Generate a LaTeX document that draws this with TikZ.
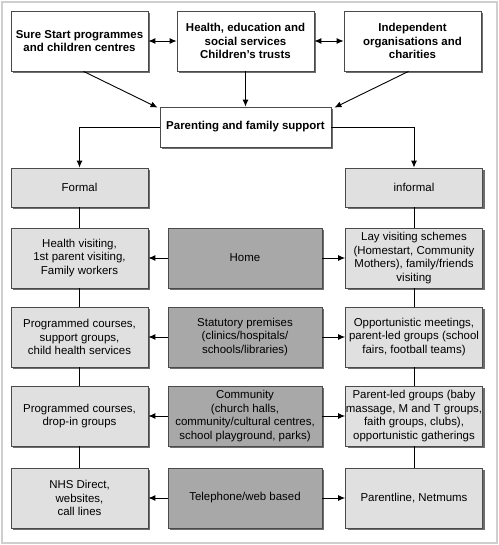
\documentclass[tikz,border=0pt]{standalone}
\usepackage{fontspec}
\setmainfont{Liberation Sans}
\usetikzlibrary{arrows.meta,shadows,calc}
\definecolor{sidefill}{HTML}{E0E0E0}
\definecolor{midfill}{HTML}{A8A8A8}
\definecolor{shadowc}{HTML}{6E6E6E}
\definecolor{edgec}{HTML}{4A4A4A}
\definecolor{framec}{HTML}{CFCFCF}
\begin{document}
\begin{tikzpicture}[x=1bp,y=-1bp,
  box/.style={draw=edgec,line width=0.8bp,rectangle,align=center,inner sep=0pt,
    font=\fontsize{11.5}{13.6}\selectfont,
    drop shadow={shadow xshift=2bp,shadow yshift=-2bp,fill=shadowc,opacity=1}},
  topbox/.style={box,fill=white,font=\bfseries\fontsize{11.5}{13.6}\selectfont,minimum width=137bp,minimum height=60bp},
  sidebox/.style={box,fill=sidefill,minimum width=137bp},
  midbox/.style={box,fill=midfill,minimum width=154bp,minimum height=60bp},
  conn/.style={line width=0.9bp,draw=black},
  arr/.style={conn,-{Latex[length=7bp,width=6bp]}},
  darr/.style={conn,{Latex[length=7bp,width=6bp]}-{Latex[length=7bp,width=6bp]}}]
\useasboundingbox (0,0) rectangle (499,545);
\draw[framec,line width=1.5bp] (2,2) rectangle (497,543);
% top row
\node[topbox] (ss) at (79.5,41) {Sure Start programmes\\and children centres};
\node[topbox] (hs) at (245.5,41) {Health, education and\\social services\\Children's trusts};
\node[topbox] (io) at (412.5,41) {Independent\\organisations and\\charities};
\node[topbox,minimum width=171bp,minimum height=40bp] (pf) at (245.5,127) {Parenting and family support};
% formal / informal
\node[sidebox,minimum height=39bp] (fo) at (79.5,187.5) {Formal};
\node[sidebox,minimum height=39bp] (in) at (414,187.5) {informal};
% row 2
\node[sidebox,minimum height=60bp] (l2) at (79.5,258) {Health visiting,\\1st parent visiting,\\Family workers};
\node[midbox] (c2) at (245,258) {Home};
\node[sidebox,minimum height=60bp] (r2) at (414,258) {Lay visiting schemes\\(Homestart, Community\\Mothers), family/friends\\visiting};
% row 3
\node[sidebox,minimum height=60bp] (l3) at (79.5,337) {Programmed courses,\\support groups,\\child health services};
\node[midbox] (c3) at (245,337) {Statutory premises\\(clinics/hospitals/\\schools/libraries)};
\node[sidebox,minimum height=60bp] (r3) at (414,337) {Opportunistic meetings,\\parent-led groups (school\\fairs, football teams)};
% row 4
\node[sidebox,minimum height=60bp] (l4) at (79.5,416) {Programmed courses,\\drop-in groups};
\node[midbox] (c4) at (245,416) {Community\\(church halls,\\community/cultural centres,\\school playground, parks)};
\node[sidebox,minimum height=60bp] (r4) at (414,416) {Parent-led groups (baby\\massage, M and T groups,\\faith groups, clubs),\\opportunistic gatherings};
% row 5
\node[sidebox,minimum height=60bp] (l5) at (79.5,498) {NHS Direct,\\websites,\\call lines};
\node[midbox] (c5) at (245,498) {Telephone/web based};
\node[sidebox,minimum height=60bp] (r5) at (414,498) {Parentline, Netmums};
% top connectors
\draw[darr] (ss.east) -- (hs.west);
\draw[darr] (hs.east) -- (io.west);
\draw[arr] ($(ss.south)+(4,0)$) -- ($(pf.north west)+(-2,1)$);
\draw[arr] (hs.south) -- (pf.north);
\draw[arr] ($(io.south)+(-4,0)$) -- ($(pf.north east)+(3,1)$);
\draw[arr] (pf.west) -| (fo.north);
\draw[arr] (pf.east) -| (in.north);
% vertical links
\draw[conn] (fo.south) -- (l2.north);
\draw[conn] (l2.south) -- (l3.north);
\draw[conn] (l3.south) -- (l4.north);
\draw[conn] (l4.south) -- (l5.north);
\draw[conn] (in.south) -- (r2.north);
\draw[conn] (r2.south) -- (r3.north);
\draw[conn] (r3.south) -- (r4.north);
\draw[conn] (r4.south) -- (r5.north);
% centre to sides
\draw[arr] (c2.west) -- (l2.east);
\draw[arr] (c2.east) -- (r2.west);
\draw[arr] (c3.west) -- (l3.east);
\draw[arr] (c3.east) -- (r3.west);
\draw[arr] (c4.west) -- (l4.east);
\draw[arr] (c4.east) -- (r4.west);
\draw[arr] (c5.west) -- (l5.east);
\draw[arr] (c5.east) -- (r5.west);
\end{tikzpicture}
\end{document}
